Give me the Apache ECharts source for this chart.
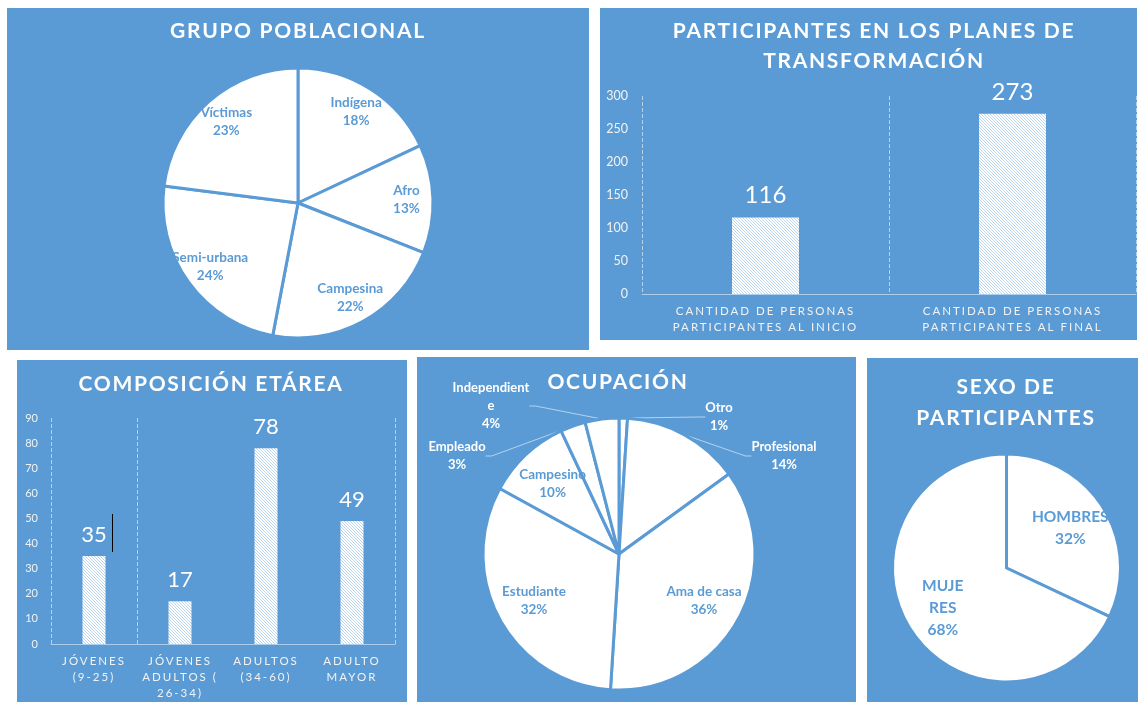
<!DOCTYPE html>
<html>
<head>
<meta charset="utf-8">
<script src="https://cdn.jsdelivr.net/npm/echarts@6/dist/echarts.min.js"></script>
<style>
  html, body { margin: 0; background: #fff; }
  #main { width: 1138px; height: 702px; }
</style>
</head>
<body>
<div id="main"></div>
<script>
// datos
const grupoNames = ['Indígena', 'Afro', 'Campesina', 'Semi-urbana', 'Víctimas'];
const grupoValues = [18, 13, 22, 24, 23];

const transCats = ['CANTIDAD DE PERSONAS\nPARTICIPANTES AL INICIO', 'CANTIDAD DE PERSONAS\nPARTICIPANTES AL FINAL'];
const transValues = [116, 273];
const transTicks = { min: 0, max: 300, interval: 50 };

const edadCats = ['JÓVENES\n(9-25)', 'JÓVENES\nADULTOS (\n26-34)', 'ADULTOS\n(34-60)', 'ADULTO\nMAYOR'];
const edadValues = [35, 17, 78, 49];
const edadTicks = { min: 0, max: 90, interval: 10 };

const ocupNames = ['Otro', 'Profesional', 'Ama de casa', 'Estudiante', 'Campesino', 'Empleado', 'Independiente'];
const ocupValues = [1, 14, 36, 32, 10, 3, 4];
const ocupOutside = ['Otro', 'Profesional', 'Empleado', 'Independiente'];

const sexoNames = ['HOMBRES', 'MUJERES'];
const sexoValues = [32, 68];

// estilo
const BLUE = '#5B9BD5';
const FONT = 'Lato';
// cortes de linea tal como aparecen en el grafico original
const labelText = { Independiente: 'Independient\ne', MUJERES: 'MUJE\nRES' };
const ocupLabelAt = { Otro: [719, 417], Profesional: [784, 456], Empleado: [457, 456], Independiente: [491, 406] };
const pctLabel = p => (labelText[p.name] || p.name) + '\n' + p.percent + '%';

// zrender no tiene letterSpacing: se aplica en el canvas segun el tamaño de fuente
const spacing = { '11.5px': '2px', '21px': '1.7px' };
const nativeFill = CanvasRenderingContext2D.prototype.fillText;
CanvasRenderingContext2D.prototype.fillText = function (t, x, y, w) {
  const key = Object.keys(spacing).find(k => this.font.indexOf(k) >= 0);
  this.letterSpacing = key ? spacing[key] : '0px';
  return w === undefined ? nativeFill.call(this, t, x, y) : nativeFill.call(this, t, x, y, w);
};

function hatch() {
  const c = document.createElement('canvas');
  c.width = c.height = 3;
  const g = c.getContext('2d');
  g.fillStyle = '#fff';
  g.fillRect(0, 0, 3, 3);
  g.fillStyle = '#bcd5ef';
  for (let i = 0; i < 3; i++) g.fillRect(i, i, 1, 1);
  return { image: c, repeat: 'repeat' };
}

function pieData(names, values, outside) {
  return names.map((n, i) => {
    const item = { name: n, value: values[i] };
    if (outside) {
      const show = outside.includes(n);
      item.label = { show: show };
      item.labelLine = { show: show };
    }
    return item;
  });
}

function labelPie(center, radius, names, values, fontSize, lineHeight, hideList) {
  const data = pieData(names, values);
  if (hideList) data.forEach(d => { d.label = { show: !hideList.includes(d.name) }; });
  return {
    type: 'pie', center: center, radius: radius, startAngle: 90, silent: true, percentPrecision: 0,
    itemStyle: { color: 'rgba(0,0,0,0)', borderWidth: 0 },
    label: { show: true, position: 'inside', formatter: pctLabel, color: BLUE, fontFamily: FONT, fontWeight: 'bold', fontSize: fontSize, lineHeight: lineHeight },
    labelLine: { show: false },
    data: data
  };
}

function basePie(center, r) {
  return {
    type: 'pie', center: center, radius: [0, r], startAngle: 90, silent: true, percentPrecision: 0,
    itemStyle: { color: '#fff', borderColor: BLUE, borderWidth: 3 },
    label: { show: false }, labelLine: { show: false }
  };
}

function catAxis(grid, cats, splitInterval) {
  return {
    type: 'category', gridIndex: grid, data: cats,
    axisTick: { show: false },
    axisLine: { lineStyle: { color: 'rgba(255,255,255,0.5)', width: 1 } },
    axisLabel: { interval: 0, color: '#f2f2f2', fontFamily: FONT, fontSize: 11.5, lineHeight: 16, margin: 9 },
    splitLine: { show: true, interval: splitInterval, lineStyle: { color: 'rgba(255,255,255,0.55)', type: 'dashed', width: 1 } }
  };
}

function valAxis(grid, ticks, fontSize, margin) {
  return {
    type: 'value', gridIndex: grid, min: ticks.min, max: ticks.max, interval: ticks.interval,
    axisLine: { show: false }, axisTick: { show: false }, splitLine: { show: false },
    axisLabel: { color: '#f2f2f2', fontFamily: FONT, fontSize: fontSize, margin: margin }
  };
}

function barSeries(axis, values, width, fontSize, dist) {
  return {
    type: 'bar', xAxisIndex: axis, yAxisIndex: axis, data: values, barWidth: width, silent: true,
    itemStyle: { color: hatch() },
    label: { show: true, position: 'top', distance: dist, color: '#fff', fontFamily: FONT, fontSize: fontSize }
  };
}

const titles = [
  { text: 'GRUPO POBLACIONAL', left: 298, top: 31.5 },
  { text: 'PARTICIPANTES EN LOS PLANES DE\nTRANSFORMACIÓN', left: 874, top: 46, lh: 30 },
  { text: 'COMPOSICIÓN ETÁREA', left: 211, top: 384 },
  { text: 'OCUPACIÓN', left: 618, top: 382.5 },
  { text: 'SEXO DE\nPARTICIPANTES', left: 1006, top: 403, lh: 31 }
].map(t => ({
  text: t.text, left: t.left, top: t.top, padding: 0,
  textAlign: 'center', textVerticalAlign: 'middle',
  textStyle: { color: '#fff', fontFamily: FONT, fontWeight: 'bold', fontSize: 21, lineHeight: t.lh || 26 }
}));

const panels = [[7, 8, 582, 342], [600, 8, 537, 332], [17, 360, 390, 342], [417, 357, 439, 345], [867, 358, 271, 344]];

const ocupMain = Object.assign(basePie([619, 554], 136), {
  data: pieData(ocupNames, ocupValues, ocupOutside),
  avoidLabelOverlap: false,
  label: { show: true, position: 'outside', formatter: pctLabel, color: '#fff', fontFamily: FONT, fontWeight: 'bold', fontSize: 13, lineHeight: 18 },
  labelLine: { show: true, length: 10, length2: 6, lineStyle: { color: 'rgba(255,255,255,0.55)', width: 1 } },
  labelLayout: function (p) {
    const at = ocupLabelAt[ocupNames[p.dataIndex]];
    return at ? { x: at[0], y: at[1], align: 'center', verticalAlign: 'middle' } : {};
  }
});

const chart = echarts.init(document.getElementById('main'), null, { renderer: 'canvas' });
chart.setOption({
  animation: false,
  backgroundColor: '#fff',
  title: titles,
  graphic: panels.map(p => ({ type: 'rect', z: -10, shape: { x: p[0], y: p[1], width: p[2], height: p[3] }, style: { fill: BLUE } }))
    .concat([{ type: 'line', z: 10, shape: { x1: 112.5, y1: 514, x2: 112.5, y2: 552 }, style: { stroke: '#000', lineWidth: 1 } }]),
  grid: [
    { left: 642, top: 96, right: 2, bottom: 408, outerBoundsMode: 'none' },
    { left: 51, top: 418, right: 743, bottom: 58, outerBoundsMode: 'none' }
  ],
  xAxis: [catAxis(0, transCats, 0), catAxis(1, edadCats, i => i <= 1)],
  yAxis: [valAxis(0, transTicks, 12.5, 14), valAxis(1, edadTicks, 11, 13)],
  series: [
    barSeries(0, transValues, 67, 24, 10),
    barSeries(1, edadValues, 23, 22, 10),
    Object.assign(basePie([298, 203], 135), { data: pieData(grupoNames, grupoValues) }),
    labelPie([298, 203], [76, 135], grupoNames, grupoValues, 13.5, 18),
    ocupMain,
    labelPie([619, 554], [52, 136], ocupNames, ocupValues, 13.5, 18, ocupOutside),
    Object.assign(basePie([1006.5, 568], 114), { data: pieData(sexoNames, sexoValues) }),
    labelPie([1006.5, 568], [31, 114], sexoNames, sexoValues, 15.5, 22)
  ]
});
</script>
</body>
</html>
